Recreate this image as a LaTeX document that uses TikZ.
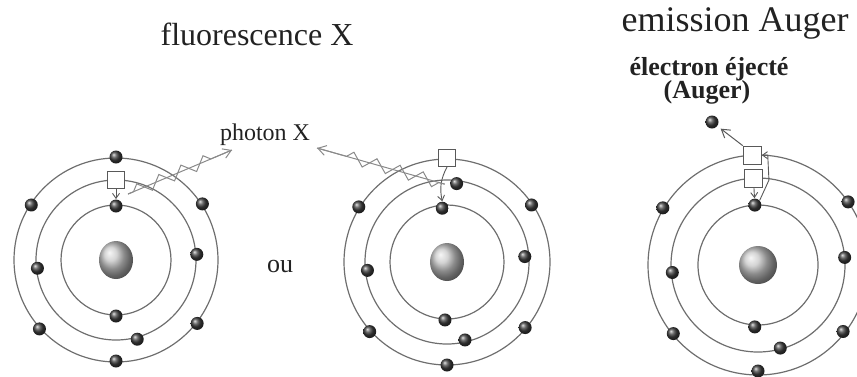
\documentclass[tikz,border=0pt]{standalone}
\usepackage{fontspec}
\setmainfont{Liberation Serif}
\usetikzlibrary{arrows.meta,shapes.geometric,decorations.pathmorphing,calc}
\definecolor{ink}{HTML}{222222}
\definecolor{shell}{HTML}{6E6E6E}
\definecolor{wave}{HTML}{8A8A8A}
\tikzset{
  orbit/.style={draw=shell, line width=0.6pt},
  nucleus/.style={ellipse, inner sep=0pt, minimum width=17pt, minimum height=19pt, ball color=gray!45},
  electron/.style={circle, inner sep=0pt, minimum size=6.5pt, ball color=black!75},
  hole/.style={draw=black!65, fill=white, line width=0.5pt, inner sep=0pt, minimum size=8.5pt},
  drop/.style={-{Straight Barb[length=2.5pt,width=3.5pt]}, draw=black!65, line width=0.45pt},
  photon/.style={-{Straight Barb[length=4pt,width=5pt]}, draw=wave, line width=0.5pt},
  wiggle/.style={draw=wave, line width=0.5pt, decorate, decoration={zigzag, amplitude=3pt, segment length=12pt, pre length=3pt, post length=10pt}},
  heading/.style={text=ink, anchor=base, inner sep=0pt},
  note/.style={text=ink, anchor=base, inner sep=0pt, font=\bfseries\fontsize{13}{15}\selectfont}
}

\begin{document}
\begin{tikzpicture}[x=0.5pt,y=-0.5pt]
\useasboundingbox (0,0) rectangle (857,376);
% atom with a vacancy in the L shell
\begin{scope}[shift={(116,260)}]
  \foreach \r in {55,80,102} {\draw[orbit] (0,0) circle[radius=\r];}
  \node[nucleus] (n1) at (0,0) {};
  \foreach \a/\r [count=\i] in {-90/103,-33/103,-147/101,-4/81,174/79,90/56,138/103,38/103,75/82,90/101}
    {\node[electron] (e1-\i) at (\a:\r) {};}
  \node[electron] (k1) at (-90:54) {};
  \node[hole] (h1) at (-90:80) {};
\end{scope}
% atom with a vacancy in the M shell
\begin{scope}[shift={(447,262)}]
  \foreach \r in {57,82,103} {\draw[orbit] (0,0) circle[radius=\r];}
  \node[nucleus] (n2) at (0,0) {};
  \foreach \a/\r [count=\i] in {-148/104,-34/102,174/80,-4/78,92/58,138/104,40/102,77/80,90/103}
    {\node[electron] (e2-\i) at (\a:\r) {};}
  \node[electron] (m2) at (-83:79) {};
  \node[electron] (k2) at (-95:54) {};
  \node[hole] (h2) at (-90:104) {};
\end{scope}
% Auger atom
\begin{scope}[shift={(758,265)}]
  \foreach \r in {60,87,110} {\draw[orbit] (0,0) circle[radius=\r];}
  \node[nucleus, minimum width=19pt] (n3) at (0,0) {};
  \foreach \a/\r [count=\i] in {-149/111,-35/110,175/86,-5/87,93/62,141/109,38/108,75/86,90/106}
    {\node[electron] (e3-\i) at (\a:\r) {};}
  \node[electron] (k3) at (-93:60) {};
  \node[hole, minimum size=9pt] (h3m) at (-93:87) {};
  \node[hole, minimum size=9pt] (h3o) at (-93:110) {};
\end{scope}
\node[electron] (ej) at (712,122) {};

% transitions and emitted photons
\coordinate (x1) at ($(h1.south)!0.5!(k1.north)+(12,0)$);
\coordinate (t1) at (232,150);
\draw[drop] (h1) -- (k1);
\draw[photon] (x1) -- (t1);
\draw[wiggle] (x1) -- (t1);

\coordinate (x2) at ($(h2.south)!0.5!(k2.north)$);
\coordinate (t2) at (317,148);
\draw[drop] (h2.south) to[bend right=20] (k2.north);
\draw[photon] (x2) -- (t2);
\draw[wiggle] (x2) -- (t2);

\draw[drop] (h3m) -- (k3);
\draw[drop] (k3.north east) -- ($(h3m.east)+(6,2)$) -- ($(h3o.east)+(6,0)$) -- (h3o.east);
\draw[photon, draw=black!65, shorten >=2pt] (h3o.north west) -- (ej);

\node[heading, font=\fontsize{16}{19}\selectfont] (fluo) at (257,45) {fluorescence X};
\node[heading, font=\fontsize{18}{22}\selectfont] (auger) at (735,31) {emission Auger};
\node[note] (eject) at (709,75) {électron éjecté};
\node[note] (ejectb) at (707,98) {(Auger)};
\node[heading, font=\fontsize{12}{14}\selectfont] (phot) at (265,140) {photon X};
\node[heading, font=\fontsize{13}{15}\selectfont] (ou) at (280,272) {ou};
\end{tikzpicture}
\end{document}
